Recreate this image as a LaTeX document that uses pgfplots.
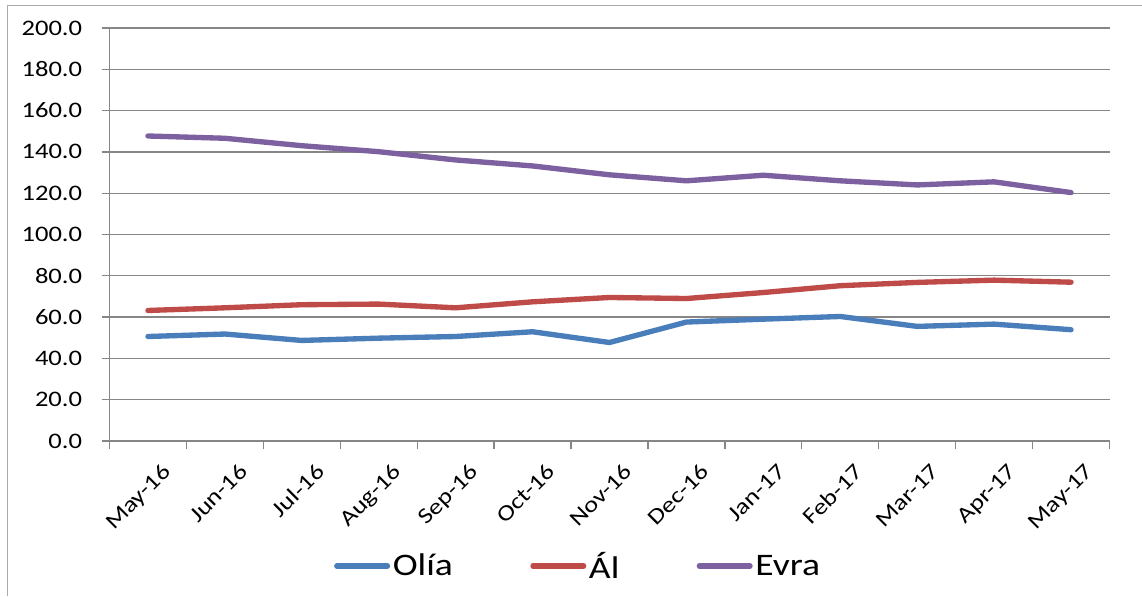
\documentclass[border=0pt]{standalone}
\usepackage{pgfplots}
\pgfplotsset{compat=1.18}
\usepackage{fontspec}
\setmainfont{Carlito}
\newfontfamily\wide[FakeStretch=1.2]{Carlito}
\definecolor{olia}{HTML}{4A7EBB}
\definecolor{al}{HTML}{BE4B48}
\definecolor{evra}{HTML}{7D60A0}
\definecolor{axgray}{HTML}{868686}
\begin{document}
\begin{tikzpicture}
\useasboundingbox (0pt,0pt) rectangle (856.5pt,447pt);
\draw[axgray!70, line width=0.75pt] (5.25pt,0pt) -- (5.25pt,442.5pt) -- (856.5pt,442.5pt);
\begin{axis}[
  at={(82.125pt,116.25pt)}, anchor=south west,
  scale only axis,
  width=750pt, height=309.75pt,
  xmin=-0.5, xmax=12.5,
  ymin=0, ymax=200,
  ytick={0,20,...,200},
  xtick={0,...,12},
  xticklabels={May-16,Jun-16,Jul-16,Aug-16,Sep-16,Oct-16,Nov-16,Dec-16,Jan-17,Feb-17,Mar-17,Apr-17,May-17},
  minor xtick={-0.5,0.5,...,12.5},
  major x tick style={draw=none},
  tick align=outside,
  major tick length=6pt,
  minor tick length=6pt,
  every tick/.style={axgray, line width=1pt},
  axis x line*=bottom,
  axis y line*=left,
  axis line style={axgray, line width=1pt},
  ymajorgrids=true,
  grid style={axgray, line width=1pt},
  /pgf/number format/.cd, fixed, fixed zerofill, precision=1, assume math mode=true,
  /pgfplots/.cd,
  yticklabel style={font=\wide\fontsize{16.6}{19}\selectfont, xshift=-11pt},
  xticklabel style={font=\wide\fontsize{16.6}{19}\selectfont, rotate=45, anchor=north east, inner sep=1pt, xshift=1pt, yshift=-13pt},
  legend columns=3,
  legend style={at={(0.469,-0.3027)}, anchor=center, draw=none, fill=none,
    font=\wide\fontsize{23.5}{27}\selectfont,
    /tikz/every even column/.append style={column sep=56pt}},
  legend image code/.code={\draw[#1, line width=4pt, line cap=round] (0pt,0pt) -- (38pt,0pt);},
  legend cell align=left,
]
\addplot[olia, line width=4pt, line cap=round, line join=round] coordinates {
  (0,50.6)(1,51.8)(2,48.7)(3,49.8)(4,50.6)(5,52.9)(6,47.7)(7,57.6)(8,59.0)(9,60.3)(10,55.5)(11,56.6)(12,53.9)
};
\addlegendentry{Olía}
\addplot[al, line width=4pt, line cap=round, line join=round] coordinates {
  (0,63.2)(1,64.5)(2,66.0)(3,66.3)(4,64.5)(5,67.4)(6,69.5)(7,69.0)(8,71.9)(9,75.2)(10,76.8)(11,77.9)(12,76.9)
};
\addlegendentry{Ál}
\addplot[evra, line width=4pt, line cap=round, line join=round] coordinates {
  (0,147.7)(1,146.6)(2,143.0)(3,140.1)(4,136.1)(5,133.2)(6,128.9)(7,126.0)(8,128.7)(9,126.0)(10,124.0)(11,125.5)(12,120.3)
};
\addlegendentry{Evra}
\end{axis}
\end{tikzpicture}
\end{document}
